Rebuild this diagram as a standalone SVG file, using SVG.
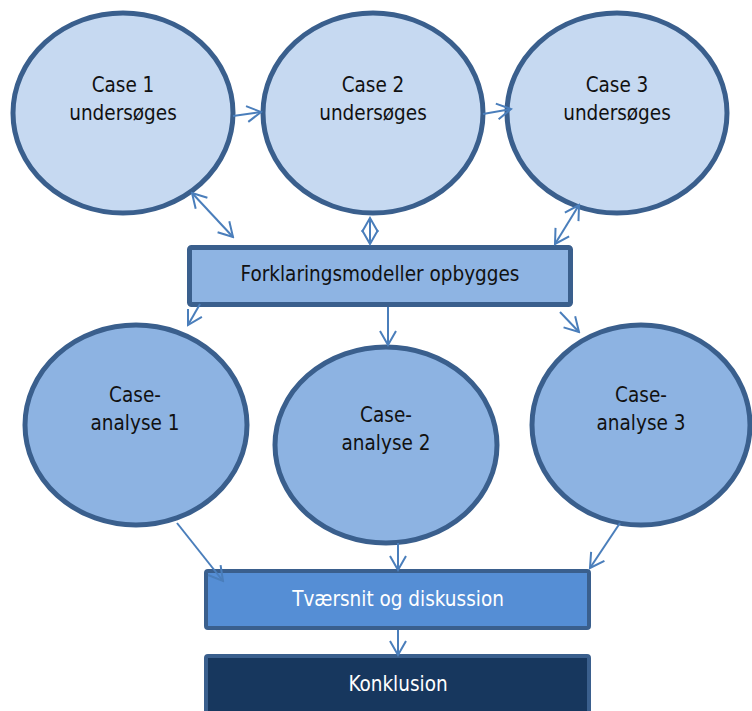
<svg xmlns="http://www.w3.org/2000/svg" width="752" height="711" viewBox="0 0 752 711">
  <defs>
    <marker id="arrow" viewBox="-16 -10 18 20" refX="0" refY="0" markerWidth="18" markerHeight="20" markerUnits="userSpaceOnUse" orient="auto-start-reverse">
      <path d="M-14,-8 L0,0 L-14,8" fill="none" stroke="#4a7ebb" stroke-width="2"/>
    </marker>
    <style>
      .lab { font-family: 'DejaVu Sans Condensed', 'DejaVu Sans', sans-serif; font-stretch: condensed; font-size: 20.5px; text-anchor: middle; }
      .dark { fill: #111111; }
      .light { fill: #ffffff; }
      .top { fill: #c6d9f1; stroke: #3a5f8d; stroke-width: 5; }
      .ana { fill: #8db3e2; stroke: #3a5f8d; stroke-width: 5; }
      .conn line { stroke: #4a7ebb; stroke-width: 2; fill: none; }
      .one { marker-end: url(#arrow); }
      .two { marker-start: url(#arrow); marker-end: url(#arrow); }
    </style>
  </defs>

  <!-- case study circles -->
  <g id="case1">
    <ellipse class="top" cx="123" cy="113" rx="110" ry="100"/>
    <text class="lab dark" x="123" y="92">Case 1</text>
    <text class="lab dark" x="123" y="120">undersøges</text>
  </g>
  <g id="case2">
    <ellipse class="top" cx="373" cy="113" rx="110" ry="100"/>
    <text class="lab dark" x="373" y="92">Case 2</text>
    <text class="lab dark" x="373" y="120">undersøges</text>
  </g>
  <g id="case3">
    <ellipse class="top" cx="617" cy="113" rx="110" ry="100"/>
    <text class="lab dark" x="617" y="92">Case 3</text>
    <text class="lab dark" x="617" y="120">undersøges</text>
  </g>

  <!-- explanatory models -->
  <g id="models">
    <rect x="189.5" y="247.5" width="381" height="57" rx="2" fill="#8eb4e3" stroke="#3a5f8d" stroke-width="5"/>
    <text class="lab dark" x="380" y="281">Forklaringsmodeller opbygges</text>
  </g>

  <!-- case analyses -->
  <g id="analysis1">
    <ellipse class="ana" cx="136" cy="425" rx="111" ry="100"/>
    <text class="lab dark" x="135" y="402">Case-</text>
    <text class="lab dark" x="135" y="430">analyse 1</text>
  </g>
  <g id="analysis2">
    <ellipse class="ana" cx="386" cy="445" rx="111" ry="98"/>
    <text class="lab dark" x="386" y="422">Case-</text>
    <text class="lab dark" x="386" y="450">analyse 2</text>
  </g>
  <g id="analysis3">
    <ellipse class="ana" cx="641" cy="425" rx="109" ry="100"/>
    <text class="lab dark" x="641" y="402">Case-</text>
    <text class="lab dark" x="641" y="430">analyse 3</text>
  </g>

  <!-- cross-case discussion -->
  <g id="crosscase">
    <rect x="206" y="571" width="383" height="57" rx="2" fill="#558ed5" stroke="#3a5f8d" stroke-width="4"/>
    <text class="lab light" x="398" y="606">Tværsnit og diskussion</text>
  </g>

  <!-- conclusion -->
  <g id="conclusion">
    <rect x="206" y="656" width="383" height="70" rx="2" fill="#17375e" stroke="#3a5f8d" stroke-width="4"/>
    <text class="lab light" x="398" y="691">Konklusion</text>
  </g>

  <!-- connectors -->
  <g class="conn">
    <line class="one" x1="233" y1="116" x2="261" y2="112"/>
    <line class="one" x1="483" y1="114" x2="511" y2="109"/>
    <line class="two" x1="192" y1="193" x2="233" y2="237"/>
    <line class="two" x1="370" y1="218" x2="370" y2="244"/>
    <line class="two" x1="579" y1="205" x2="555" y2="244"/>
    <line class="one" x1="200" y1="304" x2="188" y2="325"/>
    <line class="one" x1="388" y1="307" x2="388" y2="345"/>
    <line class="one" x1="560" y1="312" x2="579" y2="332"/>
    <line class="one" x1="177" y1="523" x2="223" y2="581"/>
    <line class="one" x1="398" y1="543" x2="398" y2="570"/>
    <line class="one" x1="620" y1="523" x2="590" y2="568"/>
    <line class="one" x1="398" y1="630" x2="398" y2="655"/>
  </g>
</svg>
